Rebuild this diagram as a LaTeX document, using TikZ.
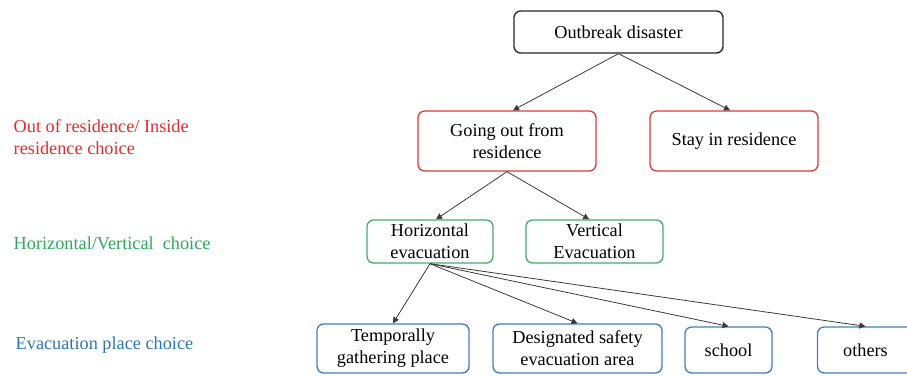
\documentclass[tikz,border=0pt]{standalone}
\usepackage{fontspec}
\setmainfont{Liberation Serif}
\usepackage{tikz}
\usetikzlibrary{arrows.meta,positioning}
\usepackage{xcolor}
\definecolor{rootcolor}{HTML}{262626}
\definecolor{residcolor}{HTML}{D93A3A}
\definecolor{residtext}{HTML}{E62B2B}
\definecolor{dircolor}{HTML}{45AA6C}
\definecolor{dirtext}{HTML}{2FA85E}
\definecolor{placecolor}{HTML}{3F7FBD}
\definecolor{placetext}{HTML}{2E75B6}
\definecolor{linkcolor}{HTML}{3A3A3A}

\begin{document}
\begin{tikzpicture}[x=0.75pt, y=-0.75pt,
    every node/.style={font=\rmfamily\fontsize{13.7}{16.5}\selectfont},
    box/.style={draw, line width=1pt, rounded corners=5pt, align=center, inner sep=2pt},
    link/.style={draw=linkcolor, line width=0.6pt, -{Triangle[length=4.5pt, width=4.5pt]}}]
    \useasboundingbox (0,0) rectangle (907,375);

    % Nodes
    \node[box, draw=rootcolor, minimum width=156.8pt, minimum height=31.5pt]
        (outbreak) at (618.5,32) {Outbreak disaster};

    \node[box, draw=residcolor, minimum width=133.5pt, minimum height=45pt]
        (goout) at (507,141) {Going out from\\residence};
    \node[box, draw=residcolor, minimum width=126pt, minimum height=45pt]
        (stay) at (734,141) {Stay in residence};

    \node[box, draw=dircolor, minimum width=94.5pt, minimum height=32.3pt]
        (horiz) at (430,241.5) {Horizontal\\evacuation};
    \node[box, draw=dircolor, minimum width=102.8pt, minimum height=32.3pt]
        (vert) at (594.5,241.5) {Vertical\\Evacuation};

    \node[box, draw=placecolor, minimum width=114pt, minimum height=36.8pt]
        (temp) at (393,348.5) {Temporally\\gathering place};
    \node[box, draw=placecolor, minimum width=126.8pt, minimum height=36.8pt]
        (desig) at (577.5,348.5) {Designated safety\\evacuation area};
    \node[box, draw=placecolor, minimum width=65.3pt, minimum height=34.5pt]
        (school) at (728.5,350) {school};
    \node[box, draw=placecolor, minimum width=72pt, minimum height=34.5pt]
        (others) at (865.5,350) {others};

    % Links
    \draw[link] (outbreak.south) -- ([xshift=4.5pt]goout.north);
    \draw[link] (outbreak.south) -- ([xshift=-3pt]stay.north);
    \draw[link] (goout.south) -- ([xshift=4.5pt]horiz.north);
    \draw[link] (goout.south) -- ([xshift=-4pt]vert.north);
    \foreach \t in {temp,desig,school,others} {
        \draw[link] (horiz.south) -- (\t.north);
    }

    % Labels
    \node[anchor=west, align=left, text=residtext] (levelone) at (9,137)
        {Out of residence/ Inside\\residence choice};
    \node[anchor=west, text=dirtext] (leveltwo) at (9,243) {Horizontal/Vertical\ \ choice};
    \node[anchor=west, text=placetext] (levelthree) at (11,345) {Evacuation place choice};
\end{tikzpicture}
\end{document}
